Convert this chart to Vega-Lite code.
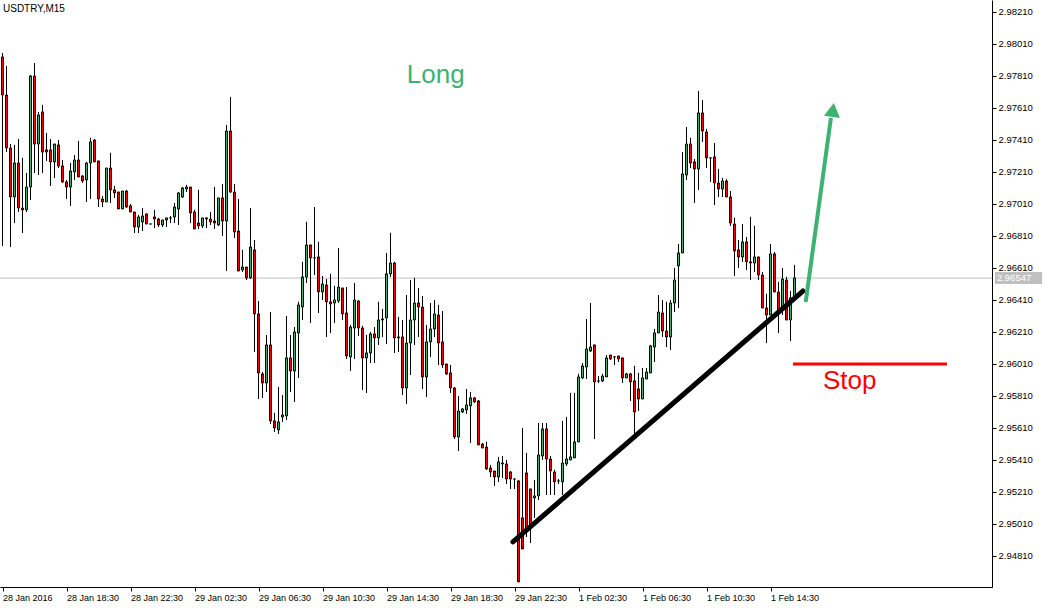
{
"$schema":"https://vega.github.io/schema/vega-lite/v6.json",
"width":992,"height":587,
"autosize":{"type":"none"},
"padding":{"left":0,"top":0,"right":53,"bottom":21},
"background":"white",
"config":{"view":{"stroke":null},"axis":{"grid":false,"domainColor":"#000","tickColor":"#000","labelColor":"#000","labelFont":"Liberation Sans","domainWidth":1,"tickWidth":1,"title":null,"labelOverlap":false,"labelBound":false,"labelFlush":false,"labelSeparation":0}},
"title":{"text":"USDTRY,M15","anchor":"start","frame":"group","orient":"top","offset":0,"dx":3,"dy":14,"fontSize":10,"fontWeight":"normal","font":"Liberation Sans","color":"#000"},
"datasets":{
"candles":[
{"i":0,"o":2.97929,"h":2.97954,"l":2.96748,"c":2.97691},
{"i":1,"o":2.97691,"h":2.97873,"l":2.97335,"c":2.9736},
{"i":2,"o":2.9736,"h":2.97385,"l":2.96741,"c":2.97054},
{"i":3,"o":2.97054,"h":2.97379,"l":2.96891,"c":2.97266},
{"i":4,"o":2.97266,"h":2.97416,"l":2.9696,"c":2.96985},
{"i":5,"o":2.96985,"h":2.97298,"l":2.96829,"c":2.96973},
{"i":6,"o":2.96973,"h":2.97204,"l":2.9696,"c":2.97116},
{"i":7,"o":2.97116,"h":2.97816,"l":2.97035,"c":2.9781},
{"i":8,"o":2.9781,"h":2.97891,"l":2.97204,"c":2.97385},
{"i":9,"o":2.97385,"h":2.97585,"l":2.97191,"c":2.97566},
{"i":10,"o":2.97585,"h":2.97629,"l":2.97204,"c":2.97335},
{"i":11,"o":2.97348,"h":2.97454,"l":2.97279,"c":2.97335},
{"i":12,"o":2.97348,"h":2.97416,"l":2.97123,"c":2.97273},
{"i":13,"o":2.97273,"h":2.97385,"l":2.97173,"c":2.97385},
{"i":14,"o":2.97379,"h":2.9741,"l":2.97235,"c":2.97248},
{"i":15,"o":2.97248,"h":2.97285,"l":2.97141,"c":2.97148},
{"i":16,"o":2.97148,"h":2.9716,"l":2.97041,"c":2.97116},
{"i":17,"o":2.97116,"h":2.97266,"l":2.96998,"c":2.97216},
{"i":18,"o":2.9721,"h":2.97316,"l":2.9716,"c":2.97285},
{"i":19,"o":2.97285,"h":2.97404,"l":2.97179,"c":2.97179},
{"i":20,"o":2.97185,"h":2.97191,"l":2.97141,"c":2.97154},
{"i":21,"o":2.9716,"h":2.97273,"l":2.97023,"c":2.97266},
{"i":22,"o":2.97266,"h":2.97423,"l":2.97041,"c":2.97398},
{"i":23,"o":2.9741,"h":2.97416,"l":2.97273,"c":2.97273},
{"i":24,"o":2.97279,"h":2.97279,"l":2.96991,"c":2.97041},
{"i":25,"o":2.97041,"h":2.9706,"l":2.96991,"c":2.97023},
{"i":26,"o":2.97023,"h":2.97235,"l":2.97023,"c":2.97235},
{"i":27,"o":2.97235,"h":2.97329,"l":2.97016,"c":2.97098},
{"i":28,"o":2.97098,"h":2.97123,"l":2.97048,"c":2.97079},
{"i":29,"o":2.97085,"h":2.97085,"l":2.96979,"c":2.96979},
{"i":30,"o":2.96979,"h":2.97091,"l":2.96979,"c":2.97091},
{"i":31,"o":2.97091,"h":2.97098,"l":2.96985,"c":2.96991},
{"i":32,"o":2.96998,"h":2.9701,"l":2.9696,"c":2.9696},
{"i":33,"o":2.9696,"h":2.9696,"l":2.96829,"c":2.96866},
{"i":34,"o":2.96866,"h":2.96941,"l":2.96829,"c":2.96929},
{"i":35,"o":2.96898,"h":2.96985,"l":2.96841,"c":2.96935},
{"i":36,"o":2.96948,"h":2.96948,"l":2.96885,"c":2.96885},
{"i":37,"o":2.96885,"h":2.96885,"l":2.96885,"c":2.96885},
{"i":38,"o":2.96929,"h":2.96973,"l":2.9686,"c":2.96916},
{"i":39,"o":2.96916,"h":2.96923,"l":2.96866,"c":2.96879},
{"i":40,"o":2.96879,"h":2.9691,"l":2.96866,"c":2.9691},
{"i":41,"o":2.9691,"h":2.96923,"l":2.96866,"c":2.96923},
{"i":42,"o":2.96923,"h":2.96935,"l":2.96891,"c":2.96923},
{"i":43,"o":2.96929,"h":2.97016,"l":2.96891,"c":2.96991},
{"i":44,"o":2.96979,"h":2.97085,"l":2.96879,"c":2.97079},
{"i":45,"o":2.97054,"h":2.97116,"l":2.97048,"c":2.9711},
{"i":46,"o":2.97104,"h":2.97129,"l":2.97085,"c":2.97116},
{"i":47,"o":2.97116,"h":2.97116,"l":2.96891,"c":2.96954},
{"i":48,"o":2.9696,"h":2.96973,"l":2.96854,"c":2.96854},
{"i":49,"o":2.96891,"h":2.97098,"l":2.96854,"c":2.96873},
{"i":50,"o":2.96873,"h":2.96923,"l":2.9686,"c":2.96923},
{"i":51,"o":2.96923,"h":2.96923,"l":2.9686,"c":2.96916},
{"i":52,"o":2.96916,"h":2.9696,"l":2.96879,"c":2.96898},
{"i":53,"o":2.96904,"h":2.97116,"l":2.96854,"c":2.96891},
{"i":54,"o":2.96879,"h":2.97048,"l":2.96873,"c":2.97048},
{"i":55,"o":2.97048,"h":2.97135,"l":2.9681,"c":2.96904},
{"i":56,"o":2.96904,"h":2.97504,"l":2.96591,"c":2.97466},
{"i":57,"o":2.97466,"h":2.97679,"l":2.97079,"c":2.97085},
{"i":58,"o":2.97085,"h":2.97135,"l":2.96798,"c":2.96835},
{"i":59,"o":2.96841,"h":2.97041,"l":2.96591,"c":2.96591},
{"i":60,"o":2.96598,"h":2.96723,"l":2.96585,"c":2.96616},
{"i":61,"o":2.96616,"h":2.96616,"l":2.96535,"c":2.96548},
{"i":62,"o":2.96548,"h":2.96985,"l":2.96541,"c":2.96741},
{"i":63,"o":2.96723,"h":2.96785,"l":2.96085,"c":2.96323},
{"i":64,"o":2.96323,"h":2.96404,"l":2.95791,"c":2.95954},
{"i":65,"o":2.95948,"h":2.9596,"l":2.95798,"c":2.95891},
{"i":66,"o":2.95891,"h":2.96191,"l":2.95835,"c":2.96129},
{"i":67,"o":2.96129,"h":2.96335,"l":2.95635,"c":2.95654},
{"i":68,"o":2.95654,"h":2.95704,"l":2.95585,"c":2.9561},
{"i":69,"o":2.95598,"h":2.95866,"l":2.95573,"c":2.95648},
{"i":70,"o":2.95679,"h":2.95816,"l":2.95648,"c":2.95691},
{"i":71,"o":2.95685,"h":2.9631,"l":2.9566,"c":2.96048},
{"i":72,"o":2.96048,"h":2.96191,"l":2.95835,"c":2.95966},
{"i":73,"o":2.95966,"h":2.96241,"l":2.95773,"c":2.9621},
{"i":74,"o":2.96204,"h":2.96398,"l":2.95923,"c":2.96379},
{"i":75,"o":2.96366,"h":2.96648,"l":2.96285,"c":2.96554},
{"i":76,"o":2.96554,"h":2.96898,"l":2.96516,"c":2.96754},
{"i":77,"o":2.96754,"h":2.96754,"l":2.96266,"c":2.96673},
{"i":78,"o":2.96673,"h":2.96991,"l":2.96566,"c":2.96673},
{"i":79,"o":2.96679,"h":2.96773,"l":2.96329,"c":2.9646},
{"i":80,"o":2.9646,"h":2.9656,"l":2.9641,"c":2.9651},
{"i":81,"o":2.96504,"h":2.96541,"l":2.96179,"c":2.96398},
{"i":82,"o":2.96398,"h":2.96573,"l":2.96204,"c":2.96385},
{"i":83,"o":2.96391,"h":2.96498,"l":2.96266,"c":2.9641},
{"i":84,"o":2.96404,"h":2.96735,"l":2.96391,"c":2.96491},
{"i":85,"o":2.96485,"h":2.96485,"l":2.96285,"c":2.96323},
{"i":86,"o":2.96329,"h":2.96491,"l":2.96041,"c":2.9606},
{"i":87,"o":2.96054,"h":2.96254,"l":2.95966,"c":2.96241},
{"i":88,"o":2.96235,"h":2.96516,"l":2.96041,"c":2.9641},
{"i":89,"o":2.96404,"h":2.9641,"l":2.96185,"c":2.96235},
{"i":90,"o":2.96235,"h":2.96248,"l":2.95848,"c":2.96048},
{"i":91,"o":2.96048,"h":2.96191,"l":2.95829,"c":2.96079},
{"i":92,"o":2.96079,"h":2.9621,"l":2.96016,"c":2.96198},
{"i":93,"o":2.96198,"h":2.96241,"l":2.96016,"c":2.96173},
{"i":94,"o":2.96173,"h":2.96398,"l":2.96129,"c":2.96285},
{"i":95,"o":2.96291,"h":2.96354,"l":2.96179,"c":2.96285},
{"i":96,"o":2.96298,"h":2.96704,"l":2.96135,"c":2.96573},
{"i":97,"o":2.96573,"h":2.96829,"l":2.96554,"c":2.96641},
{"i":98,"o":2.96641,"h":2.96648,"l":2.96079,"c":2.96173},
{"i":99,"o":2.96179,"h":2.96304,"l":2.96085,"c":2.96173},
{"i":100,"o":2.96179,"h":2.96285,"l":2.95816,"c":2.9586},
{"i":101,"o":2.9586,"h":2.96441,"l":2.9576,"c":2.96141},
{"i":102,"o":2.96141,"h":2.96535,"l":2.95941,"c":2.96285},
{"i":103,"o":2.96285,"h":2.96548,"l":2.96129,"c":2.96391},
{"i":104,"o":2.96391,"h":2.96485,"l":2.96179,"c":2.96366},
{"i":105,"o":2.96366,"h":2.96435,"l":2.95854,"c":2.95929},
{"i":106,"o":2.95929,"h":2.96254,"l":2.95804,"c":2.96148},
{"i":107,"o":2.96148,"h":2.96391,"l":2.96054,"c":2.96229},
{"i":108,"o":2.96229,"h":2.9641,"l":2.96179,"c":2.96323},
{"i":109,"o":2.96316,"h":2.96379,"l":2.96004,"c":2.96141},
{"i":110,"o":2.96148,"h":2.96341,"l":2.95985,"c":2.96004},
{"i":111,"o":2.9601,"h":2.9601,"l":2.95941,"c":2.95948},
{"i":112,"o":2.95954,"h":2.96004,"l":2.95829,"c":2.9586},
{"i":113,"o":2.9586,"h":2.95866,"l":2.95541,"c":2.95554},
{"i":114,"o":2.95554,"h":2.9581,"l":2.95466,"c":2.95716},
{"i":115,"o":2.9571,"h":2.95735,"l":2.95704,"c":2.95729},
{"i":116,"o":2.95723,"h":2.95854,"l":2.95698,"c":2.95754},
{"i":117,"o":2.95748,"h":2.95835,"l":2.95516,"c":2.95798},
{"i":118,"o":2.95798,"h":2.95804,"l":2.95766,"c":2.95773},
{"i":119,"o":2.95779,"h":2.95785,"l":2.95504,"c":2.95504},
{"i":120,"o":2.9551,"h":2.95516,"l":2.95485,"c":2.95485},
{"i":121,"o":2.95491,"h":2.95523,"l":2.95348,"c":2.95354},
{"i":122,"o":2.9536,"h":2.95379,"l":2.95304,"c":2.95335},
{"i":123,"o":2.95341,"h":2.95341,"l":2.95248,"c":2.95304},
{"i":124,"o":2.95304,"h":2.95429,"l":2.95273,"c":2.95398},
{"i":125,"o":2.95385,"h":2.95435,"l":2.95298,"c":2.95391},
{"i":126,"o":2.95385,"h":2.9541,"l":2.9526,"c":2.95291},
{"i":127,"o":2.95335,"h":2.95341,"l":2.95229,"c":2.95291},
{"i":128,"o":2.95291,"h":2.95291,"l":2.95229,"c":2.95291},
{"i":129,"o":2.95279,"h":2.95285,"l":2.94648,"c":2.94648},
{"i":130,"o":2.95048,"h":2.9561,"l":2.94854,"c":2.94854},
{"i":131,"o":2.95329,"h":2.95454,"l":2.94929,"c":2.94985},
{"i":132,"o":2.95229,"h":2.95229,"l":2.94891,"c":2.94985},
{"i":133,"o":2.95173,"h":2.95285,"l":2.95048,"c":2.95185},
{"i":134,"o":2.95185,"h":2.95641,"l":2.9516,"c":2.95441},
{"i":135,"o":2.95435,"h":2.95641,"l":2.9541,"c":2.95604},
{"i":136,"o":2.95604,"h":2.95641,"l":2.95191,"c":2.95416},
{"i":137,"o":2.95416,"h":2.95435,"l":2.95191,"c":2.95341},
{"i":138,"o":2.95335,"h":2.95348,"l":2.95191,"c":2.95273},
{"i":139,"o":2.95279,"h":2.95291,"l":2.9526,"c":2.95279},
{"i":140,"o":2.95273,"h":2.95654,"l":2.95191,"c":2.95391},
{"i":141,"o":2.95385,"h":2.95679,"l":2.95373,"c":2.95416},
{"i":142,"o":2.9541,"h":2.95829,"l":2.9541,"c":2.95429},
{"i":143,"o":2.95423,"h":2.95829,"l":2.95423,"c":2.95523},
{"i":144,"o":2.95523,"h":2.95948,"l":2.95523,"c":2.95929},
{"i":145,"o":2.95923,"h":2.96016,"l":2.95916,"c":2.95998},
{"i":146,"o":2.95991,"h":2.96291,"l":2.95916,"c":2.96104},
{"i":147,"o":2.96091,"h":2.96391,"l":2.96085,"c":2.96116},
{"i":148,"o":2.96129,"h":2.96129,"l":2.95541,"c":2.95898},
{"i":149,"o":2.95904,"h":2.95935,"l":2.95891,"c":2.95904},
{"i":150,"o":2.95904,"h":2.95948,"l":2.95898,"c":2.95935},
{"i":151,"o":2.95929,"h":2.96066,"l":2.95929,"c":2.96048},
{"i":152,"o":2.96066,"h":2.96066,"l":2.96035,"c":2.96041},
{"i":153,"o":2.96054,"h":2.9606,"l":2.96004,"c":2.96054},
{"i":154,"o":2.9606,"h":2.9606,"l":2.96023,"c":2.96041},
{"i":155,"o":2.96048,"h":2.96048,"l":2.95891,"c":2.95923},
{"i":156,"o":2.95923,"h":2.95954,"l":2.95923,"c":2.95948},
{"i":157,"o":2.95948,"h":2.95954,"l":2.95779,"c":2.95898},
{"i":158,"o":2.95904,"h":2.95998,"l":2.95566,"c":2.9571},
{"i":159,"o":2.95854,"h":2.95954,"l":2.95716,"c":2.95791},
{"i":160,"o":2.95791,"h":2.95985,"l":2.95791,"c":2.95923},
{"i":161,"o":2.95916,"h":2.95985,"l":2.95916,"c":2.9596},
{"i":162,"o":2.95954,"h":2.96129,"l":2.95954,"c":2.96123},
{"i":163,"o":2.96116,"h":2.96229,"l":2.96023,"c":2.96204},
{"i":164,"o":2.96204,"h":2.96441,"l":2.96204,"c":2.96335},
{"i":165,"o":2.96329,"h":2.9641,"l":2.96179,"c":2.96216},
{"i":166,"o":2.96216,"h":2.96398,"l":2.96116,"c":2.96179},
{"i":167,"o":2.96179,"h":2.9641,"l":2.96098,"c":2.96391},
{"i":168,"o":2.96391,"h":2.9661,"l":2.96335,"c":2.96535},
{"i":169,"o":2.96623,"h":2.9676,"l":2.9636,"c":2.96704},
{"i":170,"o":2.96704,"h":2.97335,"l":2.96704,"c":2.97198},
{"i":171,"o":2.97191,"h":2.97491,"l":2.9716,"c":2.97385},
{"i":172,"o":2.97385,"h":2.97423,"l":2.97235,"c":2.97266},
{"i":173,"o":2.97273,"h":2.97291,"l":2.97016,"c":2.97229},
{"i":174,"o":2.97229,"h":2.97716,"l":2.97098,"c":2.97579},
{"i":175,"o":2.97579,"h":2.9766,"l":2.97398,"c":2.97466},
{"i":176,"o":2.9746,"h":2.97479,"l":2.97235,"c":2.97298},
{"i":177,"o":2.97298,"h":2.97298,"l":2.97148,"c":2.97298},
{"i":178,"o":2.97304,"h":2.97391,"l":2.97004,"c":2.97141},
{"i":179,"o":2.97141,"h":2.97229,"l":2.97054,"c":2.97104},
{"i":180,"o":2.97104,"h":2.97173,"l":2.97054,"c":2.97154},
{"i":181,"o":2.97154,"h":2.97166,"l":2.97054,"c":2.97054},
{"i":182,"o":2.97054,"h":2.97091,"l":2.96873,"c":2.96891},
{"i":183,"o":2.96885,"h":2.96923,"l":2.9656,"c":2.96716},
{"i":184,"o":2.96723,"h":2.96785,"l":2.9661,"c":2.96679},
{"i":185,"o":2.96679,"h":2.96885,"l":2.96648,"c":2.96773},
{"i":186,"o":2.96773,"h":2.96804,"l":2.96598,"c":2.96648},
{"i":187,"o":2.96648,"h":2.96929,"l":2.96535,"c":2.96641},
{"i":188,"o":2.96641,"h":2.96873,"l":2.96585,"c":2.96679},
{"i":189,"o":2.96679,"h":2.96679,"l":2.96535,"c":2.96566},
{"i":190,"o":2.96566,"h":2.96585,"l":2.9636,"c":2.9636},
{"i":191,"o":2.9636,"h":2.96448,"l":2.96141,"c":2.96316},
{"i":192,"o":2.96316,"h":2.9676,"l":2.96316,"c":2.96698},
{"i":193,"o":2.96698,"h":2.9671,"l":2.9646,"c":2.9646},
{"i":194,"o":2.9646,"h":2.96523,"l":2.96204,"c":2.96348},
{"i":195,"o":2.96348,"h":2.9661,"l":2.96316,"c":2.96541},
{"i":196,"o":2.96535,"h":2.96554,"l":2.96285,"c":2.96285},
{"i":197,"o":2.96285,"h":2.96466,"l":2.96154,"c":2.96423},
{"i":198,"o":2.96435,"h":2.96629,"l":2.96435,"c":2.96548}
],
"trend":[{"i":127.6,"p":2.94898},{"i":200.1,"p":2.96466}],
"stop":[{"i":197.6,"p":2.9601},{"i":236.1,"p":2.9601}],
"arrow":[{"i":200.8,"p":2.96398},{"i":207.1,"p":2.97548}],
"head":[{"i":207.6,"p":2.97598}],
"long":[{"i":108.3,"p":2.97816,"label":"Long"}],
"stoptext":[{"i":211.8,"p":2.95904,"label":"Stop"}],
"last":[{"p":2.96547,"x0":248.1,"x1":259.9,"y0":2.96585,"y1":2.9651,"label":"2.96547"}]
},
"layer":[
{"data":{"name":"candles"},"mark":{"type":"rule","color":"#000","strokeWidth":1},
 "encoding":{
  "x":{"field":"i","type":"quantitative","scale":{"domain":[-0.625,247.375],"nice":false,"zero":false,"padding":0},
   "axis":{"orient":"bottom","title":null,"values":[0,16,32,48,64,80,96,112,128,144,160,176,192],
    "labelExpr":"['28 Jan 2016','28 Jan 18:30','28 Jan 22:30','29 Jan 02:30','29 Jan 06:30','29 Jan 10:30','29 Jan 14:30','29 Jan 18:30','29 Jan 22:30','1 Feb 02:30','1 Feb 06:30','1 Feb 10:30','1 Feb 14:30'][round(datum.value/16)]",
    "labelAlign":"left","labelBaseline":"top","labelPadding":2,"tickSize":4,"labelFontSize":9,"labelOverlap":false,"labelFlush":false,"labelBound":false,"labelOffset":0}},
  "y":{"field":"l","type":"quantitative","scale":{"domain":[2.94616,2.98285],"nice":false,"zero":false,"padding":0},
   "axis":{"orient":"right","title":null,"values":[2.9481,2.9501,2.9521,2.9541,2.9561,2.9581,2.9601,2.9621,2.9641,2.9661,2.9681,2.9701,2.9721,2.9741,2.9761,2.9781,2.9801,2.9821],
    "format":".5f","tickSize":4,"labelPadding":2,"labelFontSize":9.5,"labelBaseline":"middle","labelAlign":"left","labelOverlap":false,"labelFlush":false,"labelBound":false}},
  "y2":{"field":"h"}}},
{"data":{"name":"last"},"mark":{"type":"rule","color":"#c0c0c0","strokeWidth":1},
 "encoding":{"y":{"field":"p","type":"quantitative","scale":{"domain":[2.94616,2.98285],"nice":false,"zero":false,"padding":0},
   "axis":{"orient":"right","title":null,"values":[2.9481,2.9501,2.9521,2.9541,2.9561,2.9581,2.9601,2.9621,2.9641,2.9661,2.9681,2.9701,2.9721,2.9741,2.9761,2.9781,2.9801,2.9821],
    "format":".5f","tickSize":4,"labelPadding":2,"labelFontSize":9.5,"labelBaseline":"middle","labelAlign":"left","labelOverlap":false,"labelFlush":false,"labelBound":false}}}},
{"data":{"name":"candles"},"mark":{"type":"rule","color":"#000","strokeWidth":1},
 "encoding":{
  "x":{"field":"i","type":"quantitative","scale":{"domain":[-0.625,247.375],"nice":false,"zero":false,"padding":0}},
  "y":{"field":"l","type":"quantitative","scale":{"domain":[2.94616,2.98285],"nice":false,"zero":false,"padding":0},
   "axis":{"orient":"right","title":null,"values":[2.9481,2.9501,2.9521,2.9541,2.9561,2.9581,2.9601,2.9621,2.9641,2.9661,2.9681,2.9701,2.9721,2.9741,2.9761,2.9781,2.9801,2.9821],
    "format":".5f","tickSize":4,"labelPadding":2,"labelFontSize":9.5,"labelBaseline":"middle","labelAlign":"left","labelOverlap":false,"labelFlush":false,"labelBound":false}},
  "y2":{"field":"h"}}},
{"data":{"name":"candles"},"mark":{"type":"bar","width":2,"orient":"vertical","stroke":"#000","strokeWidth":1},
 "encoding":{
  "x":{"field":"i","type":"quantitative","scale":{"domain":[-0.625,247.375],"nice":false,"zero":false,"padding":0}},
  "y":{"field":"o","type":"quantitative","scale":{"domain":[2.94616,2.98285],"nice":false,"zero":false,"padding":0},
   "axis":{"orient":"right","title":null,"values":[2.9481,2.9501,2.9521,2.9541,2.9561,2.9581,2.9601,2.9621,2.9641,2.9661,2.9681,2.9701,2.9721,2.9741,2.9761,2.9781,2.9801,2.9821],
    "format":".5f","tickSize":4,"labelPadding":2,"labelFontSize":9.5,"labelBaseline":"middle","labelAlign":"left","labelOverlap":false,"labelFlush":false,"labelBound":false}},
  "y2":{"field":"c"},
  "fill":{"condition":{"test":"datum.c > datum.o","value":"#3cb371"},"value":"#ff0000"}}},
{"data":{"name":"trend"},"mark":{"type":"line","color":"#000","strokeWidth":5,"strokeCap":"round"},
 "encoding":{
  "x":{"field":"i","type":"quantitative","scale":{"domain":[-0.625,247.375],"nice":false,"zero":false,"padding":0}},
  "y":{"field":"p","type":"quantitative","scale":{"domain":[2.94616,2.98285],"nice":false,"zero":false,"padding":0},
   "axis":{"orient":"right","title":null,"values":[2.9481,2.9501,2.9521,2.9541,2.9561,2.9581,2.9601,2.9621,2.9641,2.9661,2.9681,2.9701,2.9721,2.9741,2.9761,2.9781,2.9801,2.9821],
    "format":".5f","tickSize":4,"labelPadding":2,"labelFontSize":9.5,"labelBaseline":"middle","labelAlign":"left","labelOverlap":false,"labelFlush":false,"labelBound":false}}}},
{"data":{"name":"stop"},"mark":{"type":"line","color":"#ff0000","strokeWidth":3},
 "encoding":{
  "x":{"field":"i","type":"quantitative","scale":{"domain":[-0.625,247.375],"nice":false,"zero":false,"padding":0}},
  "y":{"field":"p","type":"quantitative","scale":{"domain":[2.94616,2.98285],"nice":false,"zero":false,"padding":0},
   "axis":{"orient":"right","title":null,"values":[2.9481,2.9501,2.9521,2.9541,2.9561,2.9581,2.9601,2.9621,2.9641,2.9661,2.9681,2.9701,2.9721,2.9741,2.9761,2.9781,2.9801,2.9821],
    "format":".5f","tickSize":4,"labelPadding":2,"labelFontSize":9.5,"labelBaseline":"middle","labelAlign":"left","labelOverlap":false,"labelFlush":false,"labelBound":false}}}},
{"data":{"name":"arrow"},"mark":{"type":"line","color":"#3cb371","strokeWidth":4},
 "encoding":{
  "x":{"field":"i","type":"quantitative","scale":{"domain":[-0.625,247.375],"nice":false,"zero":false,"padding":0}},
  "y":{"field":"p","type":"quantitative","scale":{"domain":[2.94616,2.98285],"nice":false,"zero":false,"padding":0},
   "axis":{"orient":"right","title":null,"values":[2.9481,2.9501,2.9521,2.9541,2.9561,2.9581,2.9601,2.9621,2.9641,2.9661,2.9681,2.9701,2.9721,2.9741,2.9761,2.9781,2.9801,2.9821],
    "format":".5f","tickSize":4,"labelPadding":2,"labelFontSize":9.5,"labelBaseline":"middle","labelAlign":"left","labelOverlap":false,"labelFlush":false,"labelBound":false}}}},
{"data":{"name":"head"},"mark":{"type":"point","shape":"triangle-up","filled":true,"fill":"#3cb371","size":260,"angle":8,"strokeWidth":0,"opacity":1},
 "encoding":{
  "x":{"field":"i","type":"quantitative","scale":{"domain":[-0.625,247.375],"nice":false,"zero":false,"padding":0}},
  "y":{"field":"p","type":"quantitative","scale":{"domain":[2.94616,2.98285],"nice":false,"zero":false,"padding":0},
   "axis":{"orient":"right","title":null,"values":[2.9481,2.9501,2.9521,2.9541,2.9561,2.9581,2.9601,2.9621,2.9641,2.9661,2.9681,2.9701,2.9721,2.9741,2.9761,2.9781,2.9801,2.9821],
    "format":".5f","tickSize":4,"labelPadding":2,"labelFontSize":9.5,"labelBaseline":"middle","labelAlign":"left","labelOverlap":false,"labelFlush":false,"labelBound":false}}}},
{"data":{"name":"long"},"mark":{"type":"text","color":"#3cb371","fontSize":26,"font":"Liberation Sans","align":"center","baseline":"middle"},
 "encoding":{
  "x":{"field":"i","type":"quantitative","scale":{"domain":[-0.625,247.375],"nice":false,"zero":false,"padding":0}},
  "y":{"field":"p","type":"quantitative","scale":{"domain":[2.94616,2.98285],"nice":false,"zero":false,"padding":0},
   "axis":{"orient":"right","title":null,"values":[2.9481,2.9501,2.9521,2.9541,2.9561,2.9581,2.9601,2.9621,2.9641,2.9661,2.9681,2.9701,2.9721,2.9741,2.9761,2.9781,2.9801,2.9821],
    "format":".5f","tickSize":4,"labelPadding":2,"labelFontSize":9.5,"labelBaseline":"middle","labelAlign":"left","labelOverlap":false,"labelFlush":false,"labelBound":false}},
  "text":{"field":"label"}}},
{"data":{"name":"stoptext"},"mark":{"type":"text","color":"#ff0000","fontSize":26,"font":"Liberation Sans","align":"center","baseline":"middle"},
 "encoding":{
  "x":{"field":"i","type":"quantitative","scale":{"domain":[-0.625,247.375],"nice":false,"zero":false,"padding":0}},
  "y":{"field":"p","type":"quantitative","scale":{"domain":[2.94616,2.98285],"nice":false,"zero":false,"padding":0},
   "axis":{"orient":"right","title":null,"values":[2.9481,2.9501,2.9521,2.9541,2.9561,2.9581,2.9601,2.9621,2.9641,2.9661,2.9681,2.9701,2.9721,2.9741,2.9761,2.9781,2.9801,2.9821],
    "format":".5f","tickSize":4,"labelPadding":2,"labelFontSize":9.5,"labelBaseline":"middle","labelAlign":"left","labelOverlap":false,"labelFlush":false,"labelBound":false}},
  "text":{"field":"label"}}},
{"data":{"name":"last"},"mark":{"type":"rect","fill":"#c0c0c0"},
 "encoding":{
  "x":{"field":"x0","type":"quantitative","scale":{"domain":[-0.625,247.375],"nice":false,"zero":false,"padding":0}},
  "x2":{"field":"x1"},
  "y":{"field":"y0","type":"quantitative","scale":{"domain":[2.94616,2.98285],"nice":false,"zero":false,"padding":0},
   "axis":{"orient":"right","title":null,"values":[2.9481,2.9501,2.9521,2.9541,2.9561,2.9581,2.9601,2.9621,2.9641,2.9661,2.9681,2.9701,2.9721,2.9741,2.9761,2.9781,2.9801,2.9821],
    "format":".5f","tickSize":4,"labelPadding":2,"labelFontSize":9.5,"labelBaseline":"middle","labelAlign":"left","labelOverlap":false,"labelFlush":false,"labelBound":false}},
  "y2":{"field":"y1"}}},
{"data":{"name":"last"},"mark":{"type":"text","color":"#ffffff","fontSize":9.5,"font":"Liberation Sans","align":"left","baseline":"middle","dx":2},
 "encoding":{
  "x":{"field":"x0","type":"quantitative","scale":{"domain":[-0.625,247.375],"nice":false,"zero":false,"padding":0}},
  "y":{"field":"p","type":"quantitative","scale":{"domain":[2.94616,2.98285],"nice":false,"zero":false,"padding":0},
   "axis":{"orient":"right","title":null,"values":[2.9481,2.9501,2.9521,2.9541,2.9561,2.9581,2.9601,2.9621,2.9641,2.9661,2.9681,2.9701,2.9721,2.9741,2.9761,2.9781,2.9801,2.9821],
    "format":".5f","tickSize":4,"labelPadding":2,"labelFontSize":9.5,"labelBaseline":"middle","labelAlign":"left","labelOverlap":false,"labelFlush":false,"labelBound":false}},
  "text":{"field":"label"}}}
]
}
